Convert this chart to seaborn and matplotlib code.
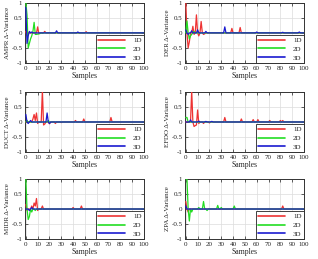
import numpy as np
import pandas as pd
import matplotlib
matplotlib.use("Agg")
import matplotlib.pyplot as plt
import seaborn as sns

# Samples on the x axis
SAMPLES = np.arange(0, 101)
PANELS = ["AMPR", "DER", "DUCT", "EFDO", "MIDR", "ZPA"]
SERIES = ["1D", "2D", "3D"]
COLORS = {"1D": "#ee3333", "2D": "#22dd22", "3D": "#1a1ad0"}

# Non-zero values, {sample: value}; everything else ~0.
AMPR_1D = {0: 0.05, 1: -0.1, 2: 0.0, 9: 0.0, 10: 0.2, 11: -0.03, 16: 0.05, 51: 0.04}
AMPR_2D = {0: 1.0, 1: 0.6, 2: -0.5, 3: -0.35, 4: -0.2, 5: -0.1, 6: 0.05, 7: 0.35,
           8: -0.05, 9: -0.05, 10: -0.04, 11: -0.03, 12: -0.02, 14: -0.01}
AMPR_3D = {0: 0.85, 1: -0.35, 2: -0.1, 3: 0.05, 5: 0.03, 26: 0.07, 44: 0.03}

DER_1D = {0: 1.0, 2: -0.5, 3: -0.3, 4: 0.0, 6: 0.22, 7: -0.05, 9: 0.6, 11: -0.1,
          13: 0.38, 15: -0.05, 16: -0.03, 39: 0.15, 40: 0.0, 46: 0.18, 47: 0.0}
DER_2D = {0: 0.0, 1: 0.4, 3: -0.2, 4: -0.1, 5: -0.05, 7: 0.05, 8: 0.0}
DER_3D = {0: 0.1, 2: -0.05, 5: 0.07, 7: 0.0, 10: 0.1, 12: 0.0, 17: 0.05, 33: 0.2,
          34: 0.0, 60: 0.03, 82: 0.02, 96: 0.03}

DUCT_1D = {5: 0.0, 6: 0.1, 7: 0.25, 8: 0.05, 9: 0.3, 10: -0.05, 13: 0.0, 14: 1.05,
           15: -0.1, 16: -0.07, 20: -0.06, 25: -0.05, 30: -0.02, 42: 0.05,
           49: 0.1, 72: 0.15, 73: 0.0}
DUCT_2D = {1: 0.05, 2: 0.0, 19: 0.05, 20: 0.0}
DUCT_3D = {0: 0.25, 2: -0.05, 4: 0.05, 5: 0.0, 17: 0.0, 18: 0.3, 20: -0.05, 21: 0.0}

EFDO_1D = {4: 0.0, 5: 1.05, 7: -0.15, 8: -0.12, 9: -0.1, 10: 0.4, 11: -0.05,
           15: -0.05, 20: -0.03, 33: 0.15, 34: 0.0, 47: 0.1, 48: 0.0, 57: 0.08,
           58: 0.0, 61: 0.08, 62: 0.0, 71: 0.05, 80: 0.05, 81: 0.0, 82: 0.05}
EFDO_2D = {0: 0.15, 1: 0.15, 2: 0.0}
EFDO_3D = {4: 0.07, 5: 0.0, 11: 0.03, 17: 0.02, 22: 0.02}

MIDR_1D = {0: 0.15, 1: -0.05, 5: 0.1, 6: 0.0, 7: 0.2, 8: 0.1, 9: 0.35, 10: -0.05,
           12: 0.0, 14: 0.1, 15: 0.0, 40: 0.05, 41: 0.0, 47: 0.1, 48: 0.0}
MIDR_2D = {0: 1.0, 2: -0.35, 3: -0.25, 5: -0.1, 8: -0.05, 12: 0.0}
MIDR_3D = {3: -0.05, 5: 0.05, 6: 0.0}

ZPA_1D = {0: 0.25, 2: -0.1, 3: 0.0, 82: 0.1, 83: 0.0}
ZPA_2D = {0: 1.0, 1: 1.0, 3: -0.4, 5: -0.1, 6: 0.0, 11: 0.05, 13: 0.0, 15: 0.25,
          18: -0.05, 20: 0.0, 27: 0.12, 28: 0.0, 30: 0.05, 31: 0.0, 41: 0.1, 42: 0.0}
ZPA_3D = {0: 0.1, 2: 0.0}

DATA = {
    "AMPR": [AMPR_1D, AMPR_2D, AMPR_3D],
    "DER": [DER_1D, DER_2D, DER_3D],
    "DUCT": [DUCT_1D, DUCT_2D, DUCT_3D],
    "EFDO": [EFDO_1D, EFDO_2D, EFDO_3D],
    "MIDR": [MIDR_1D, MIDR_2D, MIDR_3D],
    "ZPA": [ZPA_1D, ZPA_2D, ZPA_3D],
}


def to_series(points):
    vals = np.zeros(len(SAMPLES))
    for k, v in points.items():
        vals[k] = v
    return vals


def build_frame(name):
    rows = []
    for label, pts in zip(SERIES, DATA[name]):
        rows.append(pd.DataFrame({"Samples": SAMPLES, "value": to_series(pts), "series": label}))
    return pd.concat(rows, ignore_index=True)


sns.set_theme(style="whitegrid")
plt.rcParams["font.family"] = ["Liberation Serif", "DejaVu Serif"]
plt.rcParams["font.size"] = 5

fig = plt.figure(figsize=(3.18, 2.59), dpi=100)
lefts = [0.079, 0.582]
bottoms = [0.757, 0.413, 0.077]
W, H = 0.374, 0.232

for i, name in enumerate(PANELS):
    ax = fig.add_axes([lefts[i % 2], bottoms[i // 2], W, H])
    df = build_frame(name)
    sns.lineplot(data=df, x="Samples", y="value", hue="series", hue_order=SERIES,
                 palette=COLORS, lw=0.9, ax=ax, legend=False, zorder=3)
    # tiny left margin so the spikes at sample 0 are not hidden by the spine
    ax.set_xlim(-0.6, 100)
    ax.set_ylim(-1, 1)
    ax.set_xticks(np.arange(0, 101, 10))
    ax.set_yticks([-1, -0.5, 0, 0.5, 1])
    ax.set_yticklabels(["-1", "-0.5", "0", "0.5", "1"])
    ax.grid(True, color="#dcdcdc", lw=0.5)
    ax.tick_params(direction="in", length=2, width=0.5, labelsize=5, pad=2,
                   top=True, right=True, bottom=True, left=True, colors="#222222")
    for s in ax.spines.values():
        s.set_color("#333333")
        s.set_linewidth(0.7)
        s.set_zorder(2)
    ax.set_xlabel("Samples", fontsize=5.5, labelpad=1)
    ax.set_ylabel(f"{name} Δ-Variance", fontsize=5, labelpad=1)
    handles = [plt.Line2D([], [], color=COLORS[s], lw=1.2) for s in SERIES]
    leg = ax.legend(handles, SERIES, loc="lower right", borderaxespad=0,
                    fontsize=5, handlelength=3.8, labelspacing=0.4,
                    borderpad=0.35, handletextpad=1.2, fancybox=False,
                    framealpha=1, edgecolor="#222222")
    leg.get_frame().set_linewidth(0.6)
    leg.set_zorder(5)

fig.savefig("out.png", dpi=100, facecolor="white")
